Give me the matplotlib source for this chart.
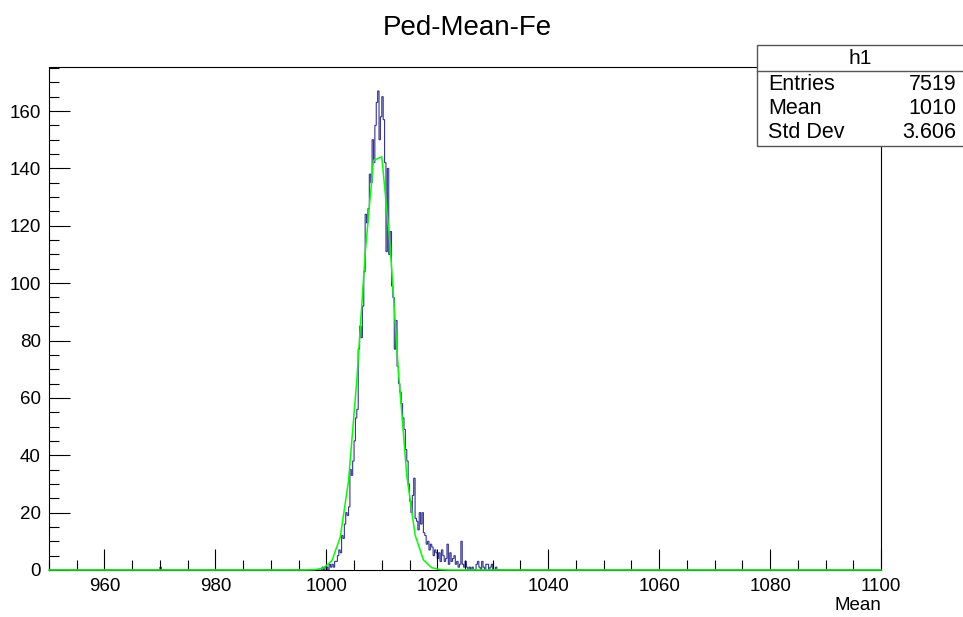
import numpy as np
import matplotlib
matplotlib.use("Agg")
import matplotlib.pyplot as plt
from matplotlib.patches import Rectangle
from matplotlib.lines import Line2D
from matplotlib.ticker import MultipleLocator

plt.rcParams['font.family'] = ['Liberation Sans', 'DejaVu Sans']

# histogram h1: bins of 0.25 on [950, 1100]
x_min = 950.0
x_max = 1100.0
bin_width = 0.25

# counts, starting at 999.0
peak_start = 999.0
peak_counts = [
    0, 1, 0, 1, 1, 0, 2, 1, 2, 1, 3, 3, 5, 7, 6, 12,
    11, 16, 20, 19, 22, 35, 33, 38, 45, 53, 56, 77, 85, 81, 92, 104,
    124, 121, 126, 138, 135, 150, 142, 155, 163, 167, 150, 158, 165, 157, 142, 111,
    140, 110, 118, 99, 95, 77, 87, 71, 65, 62, 58, 53, 49, 42, 38, 30,
    24, 20, 26, 32, 18, 17, 14, 20, 16, 20, 13, 12, 9, 10, 7, 9,
    8, 5, 7, 6, 4, 6, 3, 7, 5, 3, 4, 9, 2, 6, 3, 4,
    5, 2, 3, 1, 2, 10, 2, 1, 3, 1, 0, 1, 0, 1, 0, 0,
    2, 3, 1, 0, 3, 1, 0, 2, 2, 0, 1, 2, 0, 0, 1,
]
# isolated entries away from the peak
lone_bins = [970.0]
lone_counts = [1]

# gaussian fit
fit_const = 148.0
fit_mean = 1009.3
fit_sigma = 3.0

stats_name = "h1"
stats_labels = ["Entries", "Mean", "Std Dev"]
stats_values = ["7519", "1010", "3.606"]

title = "Ped-Mean-Fe"
x_title = "Mean"

# build the full histogram
n_bins = int(round((x_max - x_min) / bin_width))
edges = x_min + bin_width * np.arange(n_bins + 1)
counts = np.zeros(n_bins)
i0 = int(round((peak_start - x_min) / bin_width))
counts[i0:i0 + len(peak_counts)] = peak_counts
for b, c in zip(lone_bins, lone_counts):
    counts[int(round((b - x_min) / bin_width))] = c

fig = plt.figure(figsize=(9.63, 6.17), dpi=100)
W, H = 963.0, 617.0
ax = fig.add_axes([49 / W, 1 - 570 / H, (881 - 49) / W, (570 - 67) / H])

ax.stairs(counts, edges, color='#333399', lw=0.8, baseline=0)

fx = np.linspace(x_min, x_max, 101)
fy = fit_const * np.exp(-0.5 * ((fx - fit_mean) / fit_sigma) ** 2)
ax.plot(fx, fy, color='#00ff00', lw=1.1, clip_on=False, zorder=3)

ax.set_xlim(x_min, x_max)
ax.set_ylim(0, 1.05 * max(peak_counts))

ax.xaxis.set_minor_locator(MultipleLocator(5))
ax.yaxis.set_major_locator(MultipleLocator(20))
ax.yaxis.set_minor_locator(MultipleLocator(5))
ax.set_xticks([t for t in range(960, 1101, 20)])
ax.tick_params(axis='both', which='both', direction='in', top=False, right=False,
               labelsize=13.5, colors='black', width=0.8)
ax.tick_params(axis='x', which='major', length=15, pad=6)
ax.tick_params(axis='x', which='minor', length=7)
ax.tick_params(axis='y', which='major', length=15, pad=6)
ax.tick_params(axis='y', which='minor', length=7)
for s in ax.spines.values():
    s.set_linewidth(0.8)

fig.text(467 / W, 1 - 28 / H, title, ha='center', va='center', fontsize=20)
fig.text(881 / W, 1 - 606 / H, x_title, ha='right', va='center', fontsize=13.5)

# stats box
bx0, bx1, by0, by1, bdiv = 757, 964, 45, 146, 71
fig.patches.append(Rectangle((bx0 / W, 1 - by1 / H), (bx1 - bx0) / W, (by1 - by0) / H,
                             transform=fig.transFigure, facecolor='white',
                             edgecolor='#555555', lw=1.0, zorder=5))
fig.lines.append(Line2D([bx0 / W, bx1 / W], [1 - bdiv / H, 1 - bdiv / H],
                        transform=fig.transFigure, color='#555555', lw=1.0, zorder=6))
fig.text((bx0 + bx1) / 2 / W, 1 - 58 / H, stats_name, ha='center', va='center',
         fontsize=15, zorder=7)
for k, (lab, val) in enumerate(zip(stats_labels, stats_values)):
    yy = 1 - (85 + 24 * k) / H
    fig.text(768 / W, yy, lab, ha='left', va='center', fontsize=15.5, zorder=7)
    fig.text(956 / W, yy, val, ha='right', va='center', fontsize=15.5, zorder=7)

fig.savefig('out.png', dpi=100)
